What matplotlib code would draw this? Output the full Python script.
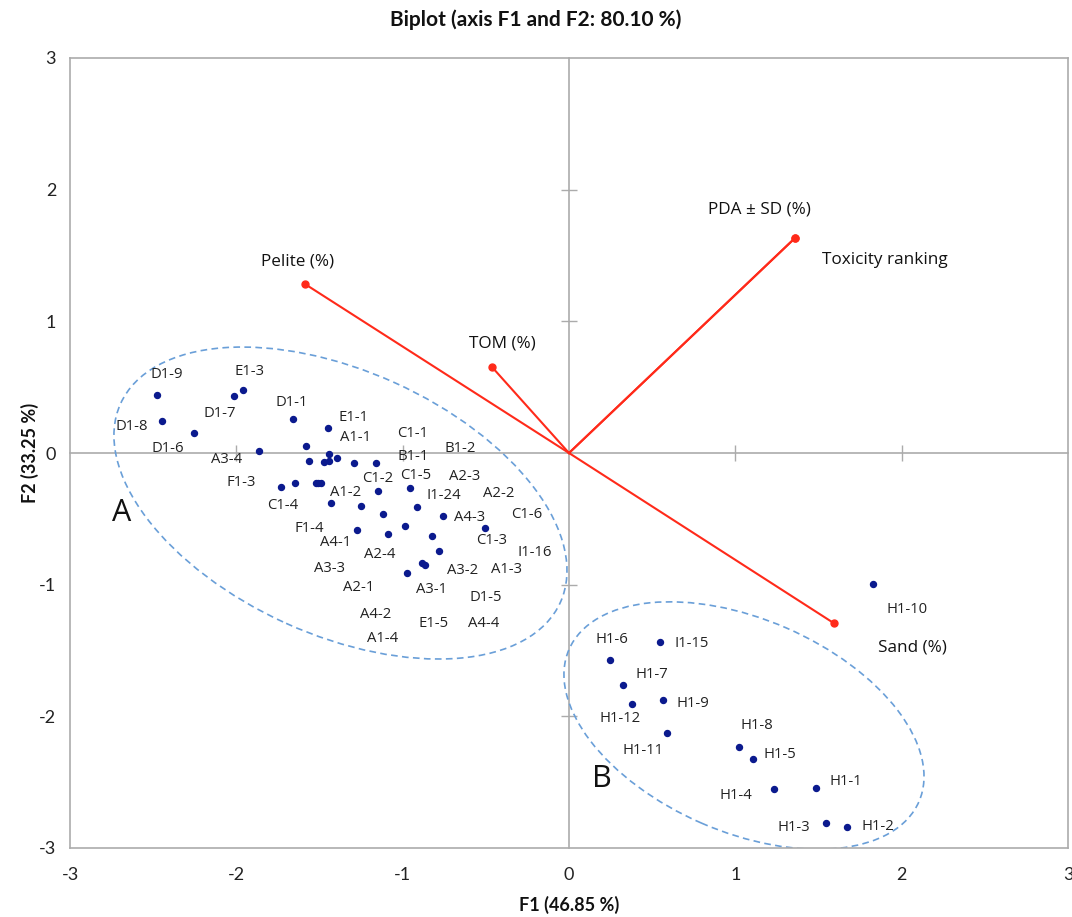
import numpy as np
import matplotlib
matplotlib.use("Agg")
import matplotlib.pyplot as plt
from matplotlib.patches import Ellipse
from matplotlib.transforms import ScaledTranslation
from matplotlib import font_manager as fm

plt.rcParams["axes.unicode_minus"] = False

# ---------------- data ----------------
obs_names_a = ["D1-9", "D1-8", "D1-6", "D1-7", "E1-3", "A3-4", "D1-1", "E1-1", "A1-1",
               "C1-1", "B1-1", "B1-2", "C1-2", "C1-5", "A2-3", "F1-3", "C1-4", "A1-2",
               "I1-24", "A2-2", "A4-3", "C1-6", "F1-4", "C1-3", "A4-1", "I1-16", "A2-4",
               "A3-3", "A3-2", "A1-3", "A2-1", "A3-1", "D1-5", "A4-2", "E1-5", "A4-4", "A1-4"]
f1_a = [-2.475, -2.447, -2.255, -2.014, -1.962, -1.862, -1.659, -1.449, -1.581, -1.441,
        -1.395, -1.561, -1.473, -1.441, -1.291, -1.160, -1.733, -1.647, -1.523, -1.507,
        -1.493, -1.150, -0.954, -1.433, -1.252, -0.916, -1.120, -0.756, -0.503, -1.273,
        -0.988, -1.088, -0.822, -0.780, -0.882, -0.868, -0.974]
f2_a = [0.443, 0.243, 0.154, 0.435, 0.476, 0.017, 0.256, 0.190, 0.053, -0.010,
        -0.038, -0.061, -0.066, -0.063, -0.078, -0.074, -0.256, -0.226, -0.230, -0.230,
        -0.230, -0.286, -0.264, -0.382, -0.400, -0.412, -0.461, -0.478, -0.567, -0.585,
        -0.554, -0.615, -0.628, -0.742, -0.838, -0.848, -0.909]
lab_f1_a = [-2.419, -2.629, -2.409, -2.098, -1.918, -2.058, -1.667, -1.297, -1.281,
            -0.940, -0.940, -0.655, -1.152, -0.920, -0.625, -1.968, -1.724, -1.341,
            -0.752, -0.425, -0.595, -0.254, -1.561, -0.465, -1.401, -0.204, -1.136,
            -1.441, -0.639, -0.375, -1.264, -0.828, -0.499, -1.165, -0.816, -0.511, -1.120]
lab_f2_a = [0.598, 0.200, 0.036, 0.301, 0.618, -0.053, 0.385, 0.271, 0.119,
            0.150, -0.023, 0.036, -0.197, -0.172, -0.180, -0.225, -0.400, -0.301,
            -0.319, -0.311, -0.489, -0.466, -0.572, -0.666, -0.681, -0.757, -0.770,
            -0.876, -0.889, -0.884, -1.020, -1.035, -1.099, -1.223, -1.294, -1.294, -1.408]

obs_names_b = ["H1-10", "I1-15", "H1-6", "H1-7", "H1-12", "H1-9", "H1-11", "H1-8",
               "H1-5", "H1-4", "H1-1", "H1-3", "H1-2"]
f1_b = [1.829, 0.547, 0.247, 0.326, 0.381, 0.565, 0.589, 1.020, 1.108, 1.231, 1.487, 1.543, 1.673]
f2_b = [-0.995, -1.433, -1.572, -1.760, -1.909, -1.878, -2.124, -2.233, -2.326, -2.554,
        -2.544, -2.808, -2.843]
lab_f1_b = [2.034, 0.738, 0.257, 0.497, 0.307, 0.744, 0.443, 1.132, 1.269, 1.004, 1.665, 1.349, 1.860]
lab_f2_b = [-1.187, -1.446, -1.413, -1.681, -2.015, -1.901, -2.261, -2.071, -2.289, -2.605,
            -2.494, -2.843, -2.838]

var_names = ["Pelite (%)", "TOM (%)", "PDA ± SD (%)", "Toxicity ranking", "Sand (%)"]
var_f1 = [-1.587, -0.463, 1.359, 1.359, 1.593]
var_f2 = [1.283, 0.653, 1.633, 1.633, -1.293]
var_lab_f1 = [-1.629, -0.403, 1.142, 1.900, 2.062]
var_lab_f2 = [1.451, 0.835, 1.846, 1.466, -1.481]

group_names = ["A", "B"]
group_lab_f1 = [-2.689, 0.200]
group_lab_f2 = [-0.458, -2.478]
# ellipse: centre (data), semi-axes (px), tilt (deg, downward to the right)
ell_cf1 = [-1.374, 1.052]
ell_cf2 = [-0.380, -2.070]
ell_a_px = [241.3, 190.8]
ell_b_px = [132.0, 106.4]
ell_tilt = [24.3, 23.5]

title = "Biplot (axis F1 and F2: 80.10 %)"
xlabel = "F1 (46.85 %)"
ylabel = "F2 (33.25 %)"
ticks = [-3, -2, -1, 0, 1, 2, 3]
inner_ticks = [-2, -1, 1, 2]

# ---------------- style ----------------
avail = {f.name for f in fm.fontManager.ttflist}
axis_font = "Lato" if "Lato" in avail else "DejaVu Sans"
lab_font = "Open Sans" if "Open Sans" in avail else "DejaVu Sans"

W, H, DPI = 1072, 917, 100
fig = plt.figure(figsize=(W / DPI, H / DPI), dpi=DPI)
ax = fig.add_axes([70 / W, 1 - 848 / H, 998 / W, 790 / H])
ax.set_xlim(-3, 3)
ax.set_ylim(-3, 3)
gray = "#ABABAB"
for s in ax.spines.values():
    s.set_color(gray)
    s.set_linewidth(1.2)
ax.set_xticks(ticks)
ax.set_yticks(ticks)
ax.set_xticklabels([str(t) for t in ticks])
ax.set_yticklabels([str(t) for t in ticks])
ax.tick_params(length=0, labelsize=13, labelcolor="#222222")
ax.tick_params(axis="y", pad=10)
ax.tick_params(axis="x", pad=14)
for t in ax.get_xticklabels() + ax.get_yticklabels():
    t.set_fontfamily(axis_font)

# zero axes with cross ticks (independent overlay)
ax0 = fig.add_axes(ax.get_position())
ax0.set_xlim(-3, 3)
ax0.set_ylim(-3, 3)
ax0.patch.set_visible(False)
for side in ["top", "right"]:
    ax0.spines[side].set_visible(False)
for side in ["left", "bottom"]:
    ax0.spines[side].set_position(("data", 0))
    ax0.spines[side].set_color(gray)
    ax0.spines[side].set_linewidth(1.2)
ax0.tick_params(direction="inout", length=11, width=1.0, color=gray,
                labelleft=False, labelbottom=False)
ax0.set_xticks(inner_ticks)
ax0.set_yticks(inner_ticks)
ax0.set_zorder(0.5)
ax.set_zorder(1)
ax.patch.set_visible(False)

# ellipses
for cx, cy, a, b, tilt in zip(ell_cf1, ell_cf2, ell_a_px, ell_b_px, ell_tilt):
    tr = fig.dpi_scale_trans + ScaledTranslation(cx, cy, ax.transData)
    e = Ellipse((0, 0), 2 * a / DPI, 2 * b / DPI, angle=-tilt, transform=tr,
                fill=False, edgecolor="#6A9FD8", linewidth=1.2,
                linestyle=(0, (4, 2.6)), zorder=2)
    ax.add_patch(e)

# variable vectors
red = "#FF2A1A"
for name, vx, vy in zip(var_names, var_f1, var_f2):
    ax.plot([0, vx], [0, vy], color=red, lw=1.5, zorder=3,
            marker="o", markevery=[1], ms=5, mfc=red, mec=red)
for name, lx, ly in zip(var_names, var_lab_f1, var_lab_f2):
    ax.text(lx, ly, name, ha="center", va="center", fontsize=12.3,
            family=lab_font, color="#111111", zorder=5)

# observations
navy = "#0B1A8E"
ax.plot(f1_a + f1_b, f2_a + f2_b, linestyle="none", marker="o", ms=4.3,
        mfc=navy, mec=navy, zorder=4)
for name, lx, ly in zip(obs_names_a + obs_names_b, lab_f1_a + lab_f1_b, lab_f2_a + lab_f2_b):
    ax.text(lx, ly, name, ha="center", va="center", fontsize=10.7,
            family=lab_font, color="#222222", zorder=5)

for name, lx, ly in zip(group_names, group_lab_f1, group_lab_f2):
    ax.text(lx, ly, name, ha="center", va="center", fontsize=22,
            family=lab_font, color="#111111", zorder=5)

fig.text(0.5, 1 - 20 / H, title, ha="center", va="center", fontsize=15,
         fontweight="bold", family=axis_font, color="#111111")
fig.text((70 + 998 / 2) / W, 1 - 905 / H, xlabel, ha="center", va="center",
         fontsize=13, fontweight="bold", family=axis_font, color="#111111")
fig.text(30 / W, 1 - 453 / H, ylabel, ha="center", va="center", rotation=90,
         fontsize=13, fontweight="bold", family=axis_font, color="#111111")

fig.savefig("out.png", dpi=DPI)
